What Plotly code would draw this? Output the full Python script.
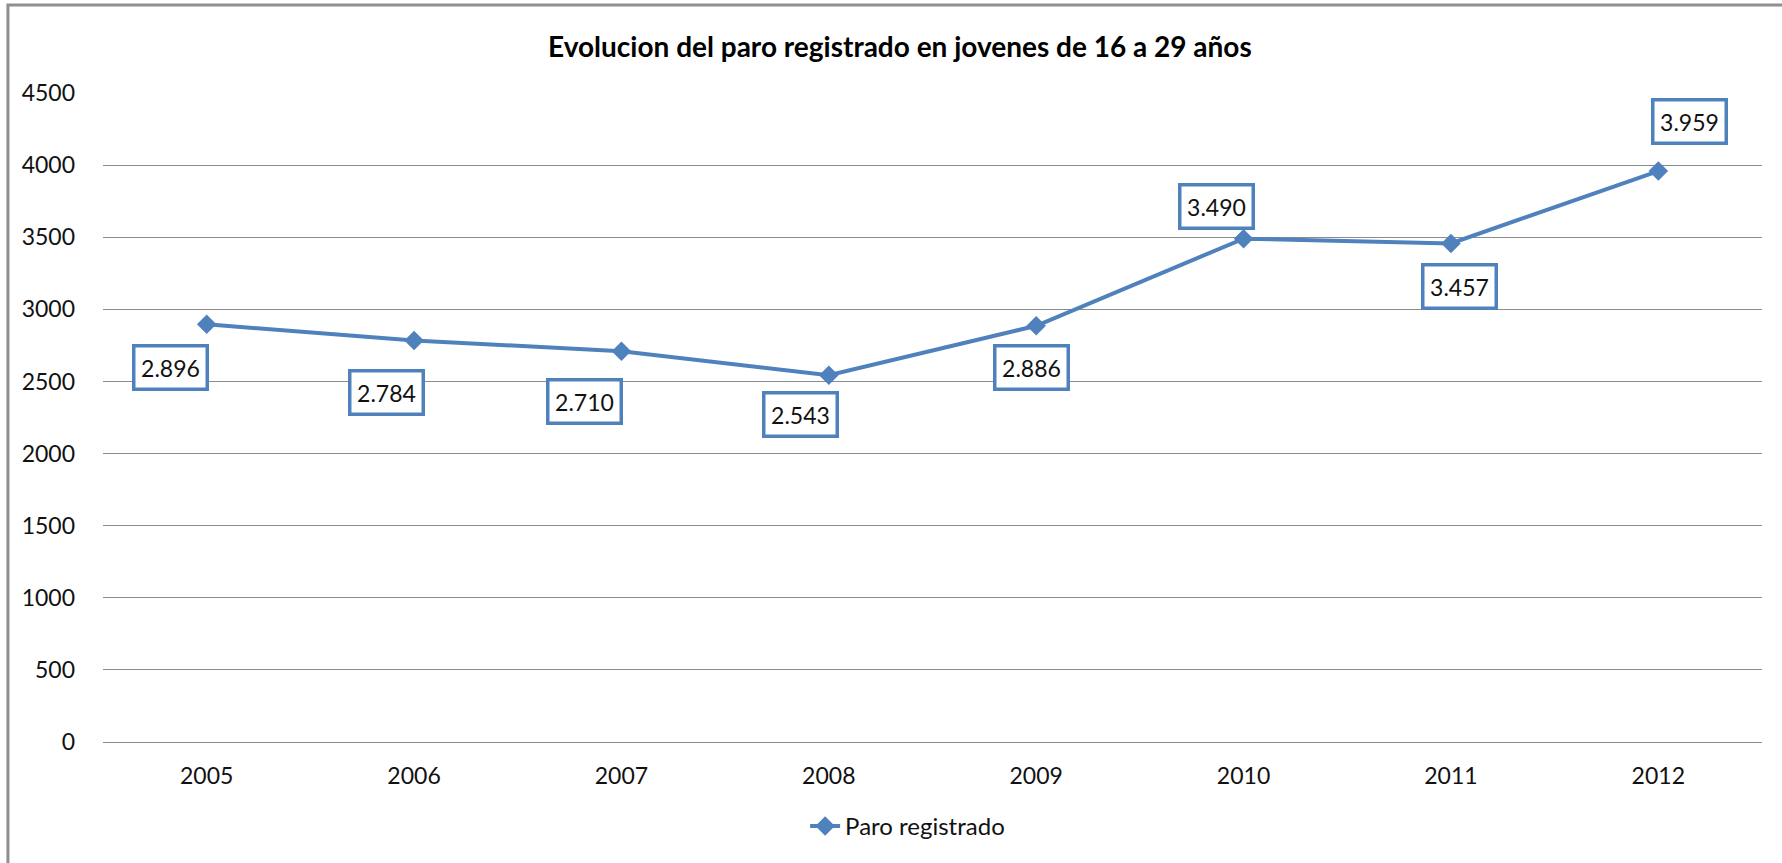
import plotly.graph_objects as go

years = ["2005", "2006", "2007", "2008", "2009", "2010", "2011", "2012"]
paro = [2896, 2784, 2710, 2543, 2886, 3490, 3457, 3959]
y_ticks = [0, 500, 1000, 1500, 2000, 2500, 3000, 3500, 4000, 4500]

# label offsets (px) from each point, as placed by hand in the original
label_dx = [-36, -28, -37, -28, -5, -27, 9, 31]
label_dy = [-43, -52, -50, -39, -42, 32, -43, 50]

BLUE = "#4F81BD"
GRID = "#8c8c8c"
FONT = "Lato"

fig = go.Figure()
fig.add_trace(go.Scatter(
    x=years, y=paro, name="Paro registrado", mode="lines+markers",
    line=dict(color=BLUE, width=4),
    marker=dict(symbol="diamond", size=15, color=BLUE),
))

for i, (v, dx, dy) in enumerate(zip(paro, label_dx, label_dy)):
    fig.add_annotation(
        x=i, y=v, text=f"{v:,}".replace(",", "."), showarrow=False,
        xshift=dx, yshift=dy, font=dict(family=FONT, size=23, color="#111"),
        bgcolor="white", bordercolor=BLUE, borderwidth=3.5, borderpad=3,
        width=64, height=34,
    )

# outer chart frame (runs off the right and bottom of the page)
fig.add_shape(type="rect", xref="paper", yref="paper",
              x0=-0.0573, x1=1.1, y0=-0.3, y1=1.1356,
              line=dict(color="#8f8f8f", width=3), layer="below")

fig.update_layout(
    width=1782, height=863,
    margin=dict(l=103, r=20, t=93, b=121),
    paper_bgcolor="white", plot_bgcolor="white",
    font=dict(family=FONT, size=23, color="#111"),
    title=dict(text="<b>Evolucion del paro registrado en jovenes de 16 a 29 años</b>",
               x=0.505, xanchor="center", y=1 - 47 / 863, yanchor="middle",
               font=dict(family=FONT, size=28, color="#000")),
    showlegend=True,
    legend=dict(orientation="h", x=0.485, xanchor="center", y=-0.13, yanchor="middle",
                font=dict(family=FONT, size=24, color="#111")),
)
fig.update_xaxes(type="category", range=[-0.5, 7.5], showgrid=False, showline=True,
                 linecolor=GRID, linewidth=1, ticks="", ticklabelstandoff=13)
fig.update_yaxes(range=[0, 4500], tickvals=y_ticks, showgrid=True, gridcolor=GRID,
                 gridwidth=1, zeroline=True, zerolinecolor=GRID, zerolinewidth=1,
                 showline=False, ticks="", ticklabelstandoff=27)

fig.write_html("out.html", config={"displayModeBar": False},
               post_script="document.body.style.margin='0';")
